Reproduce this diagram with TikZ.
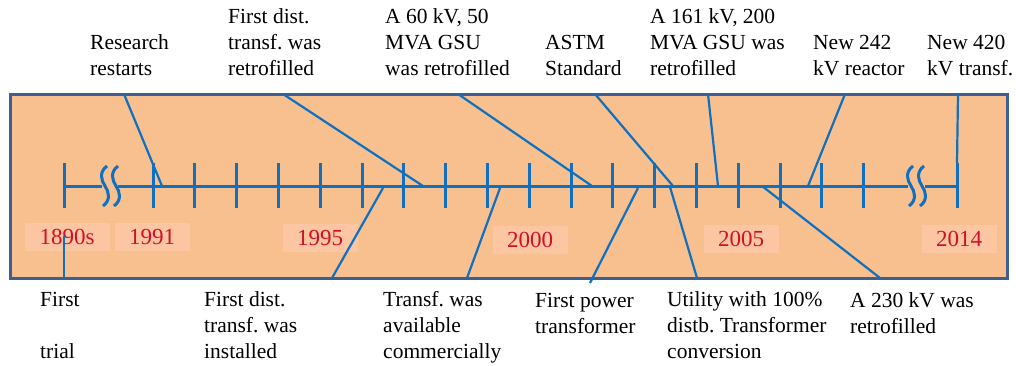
\documentclass[tikz,border=0pt]{standalone}
\usepackage{fontspec}
\setmainfont{Liberation Serif}
\usetikzlibrary{positioning}
\frenchspacing
\definecolor{boxfill}{RGB}{249,192,143}
\definecolor{boxline}{RGB}{62,96,145}
\definecolor{axisblue}{RGB}{16,112,192}
\definecolor{yearfill}{RGB}{252,198,162}
\definecolor{yearred}{RGB}{208,16,42}
\newcommand\axbreak[1]{%
	\draw[tick] (#1+2,166) .. controls (#1-6,172) and (#1-4,180) .. (#1,186)
		.. controls (#1+4,192) and (#1+6,200) .. (#1-2,206);}

\begin{document}
\begin{tikzpicture}[x=1pt,y=-1pt,
	event/.style={align=left,anchor=base west,inner sep=0pt,
		font=\fontsize{21.5}{26}\selectfont},
	year/.style={fill=yearfill,text=yearred,minimum width=75pt,
		minimum height=28pt,inner sep=0pt,font=\fontsize{23}{23}\selectfont},
	tick/.style={axisblue,line width=3pt},
	link/.style={axisblue,line width=2.2pt}]
		\useasboundingbox (0,0) rectangle (1016,365);
		% background panel
		\draw[boxline,fill=boxfill,line width=3pt] (10,94) rectangle (1007,278);
		% year labels
		\node[year,minimum width=85pt] (y1890) at (67,237) {1890s};
		\node[year] (y1991) at (152,237) {1991};
		\node[year] (y1995) at (320,238) {1995};
		\node[year] (y2000) at (530,240) {2000};
		\node[year] (y2005) at (741,239) {2005};
		\node[year] (y2014) at (959,239) {2014};
		% time axis
		\draw[tick] (64,186) -- (102,186);
		\draw[tick] (118,186) -- (908,186);
		\draw[tick] (925,186) -- (957,186);
		\draw[tick] (64,163) -- (64,208);
		\draw[tick] (957,163) -- (957,208);
		\foreach \i in {0,...,17}
			\draw[tick] ({153+41.8*\i},163) -- ({153+41.8*\i},208);
		\axbreak{105}
		\axbreak{116}
		\axbreak{911}
		\axbreak{922}
		% events above the axis (anchored on the last line)
		\node[event] (restart) at (90,75) {Research\\restarts};
		\node[event] (retro1) at (228,75) {First dist.\\transf. was\\retrofilled};
		\node[event] (gsu60) at (385,75) {A 60 kV, 50\\MVA GSU\\was retrofilled};
		\node[event] (astm) at (545,75) {ASTM\\Standard};
		\node[event] (gsu161) at (650,75) {A 161 kV, 200\\MVA GSU was\\retrofilled};
		\node[event] (react) at (813,75) {New 242\\kV reactor};
		\node[event] (tr420) at (927,75) {New 420\\kV transf.};
		% events below the axis
		\node[event] (trial) at (40,358) {First\\~\\trial};
		\node[event] (inst) at (204,358) {First dist.\\transf. was\\installed};
		\node[event] (avail) at (383,358) {Transf. was\\available\\commercially};
		\node[event] (power) at (535,333) {First power\\transformer};
		\node[event] (util) at (667,358) {Utility with 100\%\\distb. Transformer\\conversion};
		\node[event] (kv230) at (850,333) {A 230 kV was\\retrofilled};
		% connector ends
		\coordinate (restart-a) at (124,94);   \coordinate (restart-b) at (162,186);
		\coordinate (retro1-a) at (283,94);    \coordinate (retro1-b) at (423,186);
		\coordinate (gsu60-a) at (458,94);     \coordinate (gsu60-b) at (592,186);
		\coordinate (astm-a) at (595,94);      \coordinate (astm-b) at (673,186);
		\coordinate (gsu161-a) at (708,94);    \coordinate (gsu161-b) at (718,186);
		\coordinate (react-a) at (845,94);     \coordinate (react-b) at (808,186);
		\coordinate (tr420-a) at (958,94);     \coordinate (tr420-b) at (957,163);
		\coordinate (trial-a) at (64,236);     \coordinate (trial-b) at (64,278);
		\coordinate (inst-a) at (332,278);     \coordinate (inst-b) at (383,188);
		\coordinate (avail-a) at (467,278);    \coordinate (avail-b) at (500,188);
		\coordinate (power-a) at (590,283);    \coordinate (power-b) at (638,188);
		\coordinate (util-a) at (697,278);     \coordinate (util-b) at (670,187);
		\coordinate (kv230-a) at (880,278);    \coordinate (kv230-b) at (762,186);
		% connectors
		\foreach \e in {restart,retro1,gsu60,astm,gsu161,react,tr420,
				trial,inst,avail,power,util,kv230}
			\draw[link] (\e-a) -- (\e-b);
	\end{tikzpicture}
\end{document}
